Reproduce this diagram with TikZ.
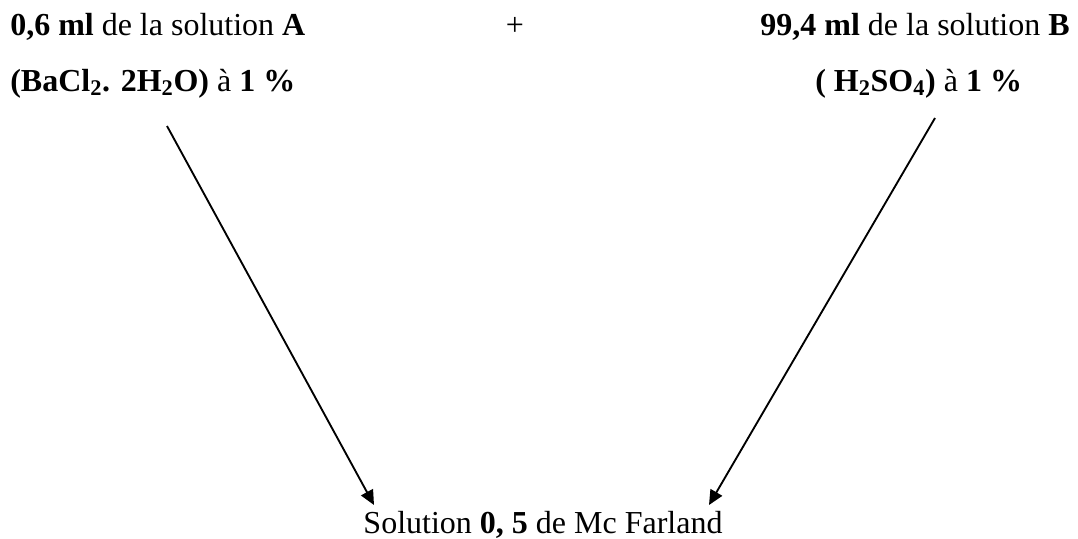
\documentclass[tikz,border=0pt]{standalone}
\usepackage{fontspec}
\setmainfont{Liberation Serif}
\usetikzlibrary{arrows.meta}
\tikzset{
  txt/.style={inner sep=0pt, font=\fontsize{24pt}{28pt}\selectfont},
  arr/.style={line width=1.4pt, -{Triangle[length=11pt,width=10pt]}}
}
\begin{document}
\begin{tikzpicture}[x=0.75pt,y=-0.75pt]
\useasboundingbox (0,0) rectangle (1078,539);
\node[txt, anchor=base west] (a1) at (10,36) {\textbf{0,6 ml} de la solution \textbf{A}};
\node[txt, anchor=base west] (a2) at (10,91) {\textbf{(BaCl\textsubscript{2}. 2H\textsubscript{2}O)} à \textbf{1 \%}};
\node[txt, anchor=base] (plus) at (515,36) {+};
\node[txt, anchor=base east] (b1) at (1070,36) {\textbf{99,4 ml} de la solution \textbf{B}};
\node[txt, anchor=base west] (b2) at (815,91) {\textbf{( H\textsubscript{2}SO\textsubscript{4})} à \textbf{1 \%}};
\node[txt, anchor=base] (c) at (543,533) {Solution \textbf{0, 5} de Mc Farland};
\coordinate (sa) at (167,126);
\coordinate (ea) at (374,505);
\coordinate (sb) at (935,118);
\coordinate (eb) at (709,505);
\draw[arr] (sa) -- (ea);
\draw[arr] (sb) -- (eb);
\end{tikzpicture}
\end{document}
